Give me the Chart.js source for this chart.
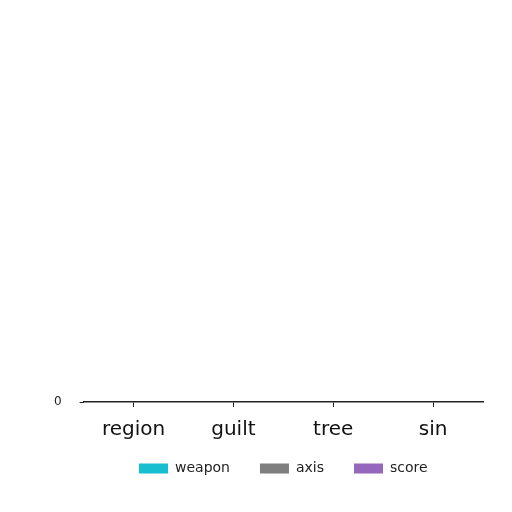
<!DOCTYPE html>
<html>
<head>
<meta charset="utf-8">
<script src="https://cdn.jsdelivr.net/npm/chart.js@4.4.1/dist/chart.umd.min.js"></script>
<style>
  html,body{margin:0;padding:0;background:#fff;}
  #wrap{width:512px;height:512px;}
</style>
</head>
<body>
<div id="wrap"><canvas id="c" width="512" height="512"></canvas></div>
<script>
// ===== data =====
const categories = ['region', 'guilt', 'tree', 'sin'];
const weaponVals = [0, 0, 0, 0];
const axisVals   = [0, 0, 0, 0];
const scoreVals  = [0, 0, 0, 0];
const yTicks     = [0];

const FONT = "'DejaVu Sans', sans-serif";

// pull the legend up, closer to the category labels
const legendNudge = {
  id: 'legendNudge',
  afterLayout(chart){
    const lg = chart.legend;
    if(!lg) return;
    lg.top -= 21.5; lg.bottom -= 21.5;
  }
};

new Chart(document.getElementById('c').getContext('2d'), {
  type: 'bar',
  data: {
    labels: categories,
    datasets: [
      {label: 'weapon', data: weaponVals, backgroundColor: '#17becf'},
      {label: 'axis',   data: axisVals,   backgroundColor: '#7f7f7f'},
      {label: 'score',  data: scoreVals,  backgroundColor: '#9467bd'}
    ]
  },
  plugins: [legendNudge],
  options: {
    responsive: false,
    animation: false,
    layout: {padding: {left: 36, right: 29, top: 10, bottom: 5}},
    plugins: {
      tooltip: {enabled: false},
      legend: {
        position: 'bottom',
        fullSize: false,
        labels: {
          boxWidth: 29, boxHeight: 10, padding: 30,
          color: '#222', font: {family: FONT, size: 14}
        }
      }
    },
    scales: {
      x: {
        offset: true,
        border: {display: true, color: '#222', width: 1.5},
        grid: {display: true, offset: false, drawOnChartArea: false, tickLength: 5, color: '#222'},
        ticks: {color: '#111', padding: 11, maxRotation: 0, font: {family: FONT, size: 20}}
      },
      y: {
        min: 0, max: 1,
        border: {display: false},
        grid: {
          drawOnChartArea: false, tickLength: 4,
          color: c => (c.tick && yTicks.includes(c.tick.value)) ? '#222' : 'rgba(0,0,0,0)'
        },
        ticks: {
          stepSize: 1, padding: 18, color: '#222', font: {family: FONT, size: 12},
          callback: v => yTicks.includes(v) ? String(v) : ''
        }
      }
    }
  }
});
</script>
</body>
</html>
